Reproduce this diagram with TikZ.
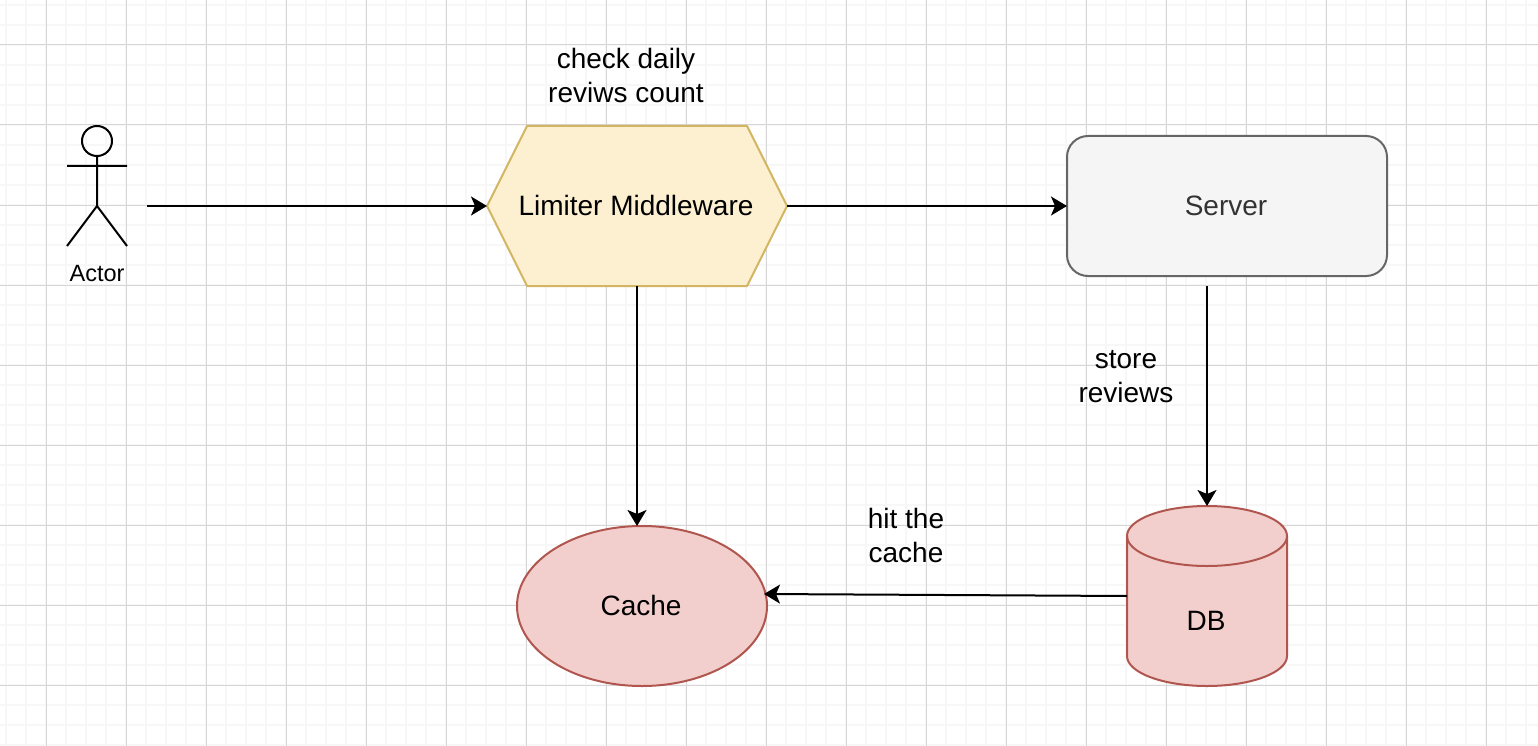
\documentclass[tikz,border=0pt]{standalone}
\usepackage{fontspec}
\setmainfont{Liberation Sans}
\usetikzlibrary{arrows.meta}
\definecolor{gridminor}{HTML}{F7F7F7}
\definecolor{gridmajor}{HTML}{D6D6D6}
\definecolor{hexfill}{HTML}{FDF0D0}
\definecolor{hexline}{HTML}{D3B664}
\definecolor{redfill}{HTML}{F2CFCC}
\definecolor{redline}{HTML}{B0564F}
\definecolor{srvfill}{HTML}{F5F5F5}
\definecolor{srvline}{HTML}{666666}
\definecolor{srvtext}{HTML}{333333}
\tikzset{
  x=1pt,y=-1pt,
  lbl/.style={font=\fontsize{28}{34}\selectfont,align=center,inner sep=0pt,text=black},
  box/.style={inner sep=0pt,outer sep=0pt,lbl},
  conn/.style={line width=2pt,-{Stealth[length=16pt,width=19pt,inset=4pt]}},
  shapeline/.style={line width=2pt,line join=round},
  figure/.style={line width=2pt,line join=round,line cap=butt},
}
\begin{document}
\begin{tikzpicture}
\useasboundingbox (0,0) rectangle (1538,746);
\fill[white] (0,0) rectangle (1538,746);
% grid
\foreach \x in {6,26,...,1538} \draw[gridminor,line width=2pt] (\x,0) -- (\x,746);
\foreach \y in {5,25,...,746} \draw[gridminor,line width=2pt] (0,\y) -- (1538,\y);
\foreach \x in {46,126,...,1538} \draw[gridmajor,line width=1pt] (\x,0) -- (\x,746);
\foreach \y in {45,125,...,746} \draw[gridmajor,line width=1pt] (0,\y) -- (1538,\y);
% actor
\draw[figure] (97,141) circle (15);
\draw[figure] (97,156) -- (97,206) (67,166) -- (127,166) (67,246) -- (97,206) -- (127,246);
\coordinate (actorout) at (147,206);
\node[box,font=\fontsize{23.5}{28}\selectfont] (actorlabel) at (97,274) {Actor};
% hexagon
\draw[shapeline,draw=hexline,fill=hexfill] (487,206) -- (527,126) -- (747,126) -- (787,206) -- (747,286) -- (527,286) -- cycle;
\node[box,minimum width=300pt,minimum height=160pt] (limiter) at (637,206) {};
\node[box] (limiterlabel) at (636,205) {Limiter Middleware};
\node[lbl] (checklabel) at (626,75) {check daily\\reviws count};
% server
\draw[shapeline,draw=srvline,fill=srvfill,rounded corners=21pt] (1067,136) rectangle (1387,276);
\node[box,minimum width=320pt,minimum height=140pt,text=srvtext] (server) at (1226,206) {Server};
\coordinate (serverin) at (1067,206);
\coordinate (serverout) at (1207,286);
% cache
\draw[shapeline,draw=redline,fill=redfill] (642,606) ellipse (125 and 80);
\node[box,minimum width=250pt,minimum height=160pt] (cache) at (642,606) {};
\node[box] (cachelabel) at (641,605) {Cache};
\coordinate (cachetop) at (637,526);
\coordinate (cacheright) at (764,594);
% DB
\draw[shapeline,draw=redline,fill=redfill] (1127,536) arc[start angle=180,end angle=360,x radius=80,y radius=30] -- (1287,656) arc[start angle=0,end angle=180,x radius=80,y radius=30] -- cycle;
\draw[shapeline,draw=redline] (1127,536) arc[start angle=180,end angle=0,x radius=80,y radius=30];
\node[box,minimum width=160pt,minimum height=180pt] (db) at (1207,596) {};
\node[box] (dblabel) at (1206,621) {DB};
\coordinate (dbleft) at (1127,596);
% labels
\node[lbl] (storelabel) at (1126,377) {store\\reviews};
\node[lbl] (hitlabel) at (906,535) {hit the\\cache};
% connectors
\draw[conn] (actorout) -- (limiter.west);
\draw[conn] (limiter.east) -- (serverin);
\draw[conn] (limiter.south) -- (cachetop);
\draw[conn] (serverout) -- (db.north);
\draw[conn] (dbleft) -- (cacheright);
\end{tikzpicture}
\end{document}
